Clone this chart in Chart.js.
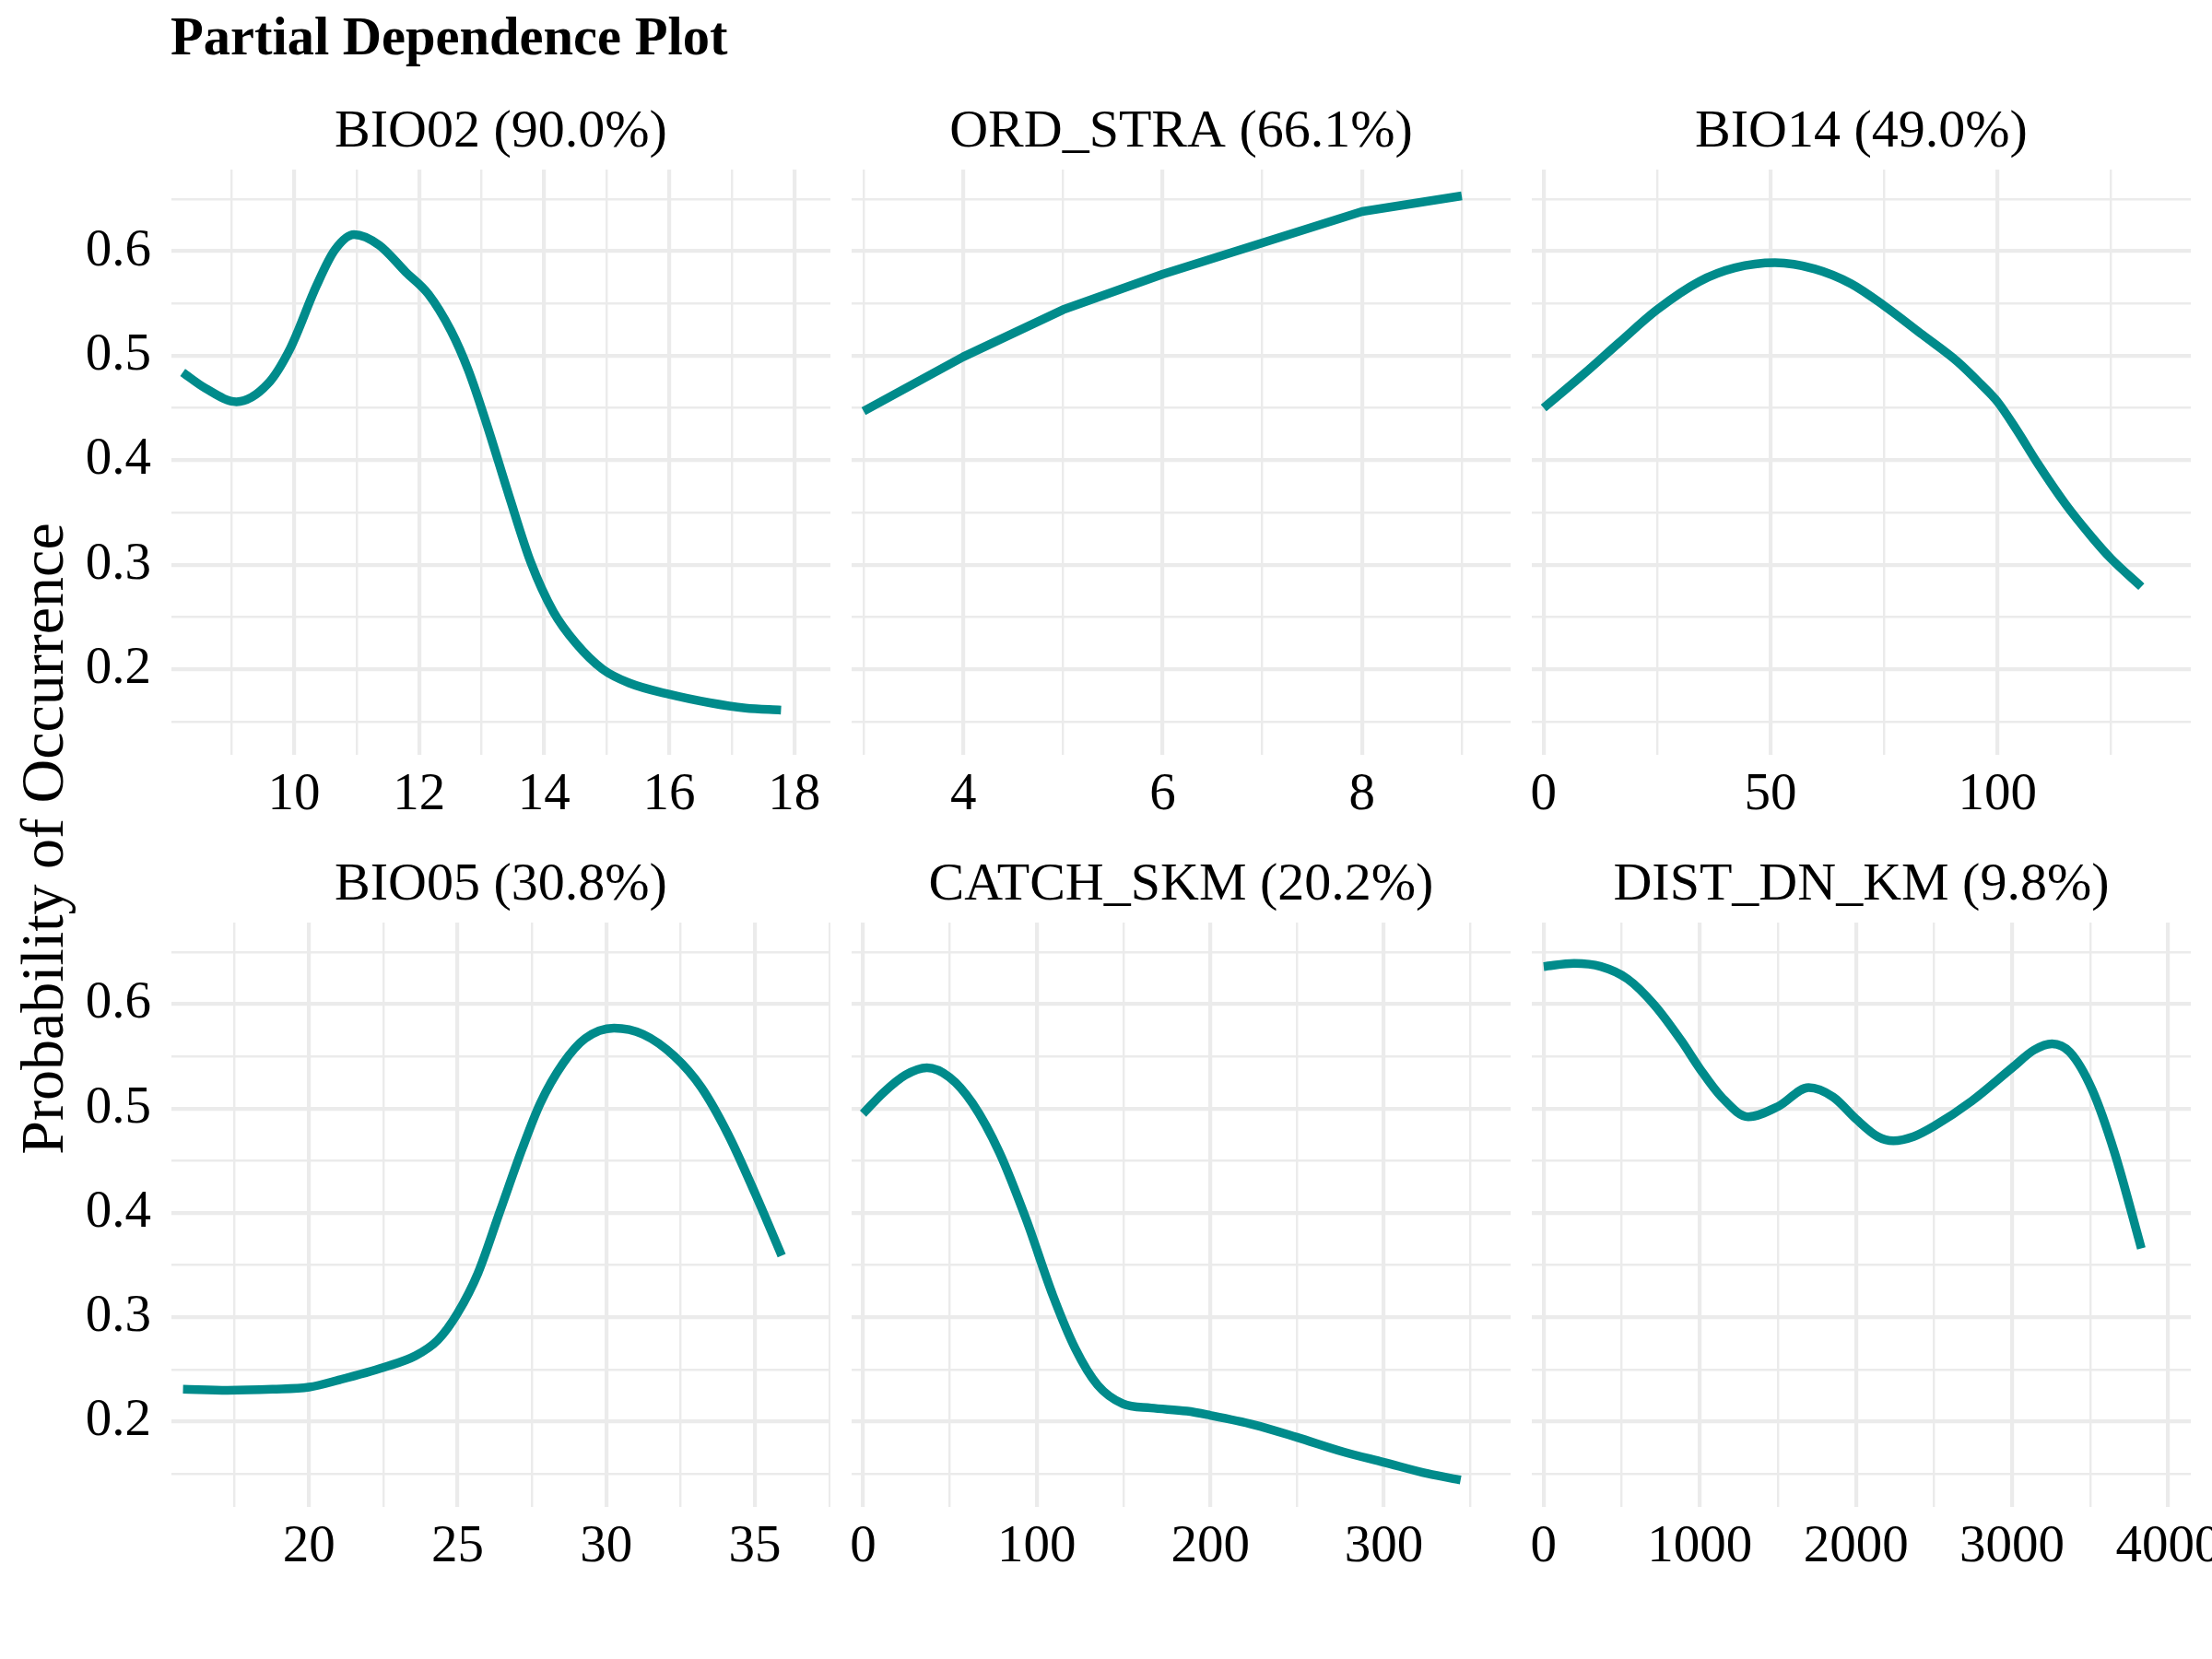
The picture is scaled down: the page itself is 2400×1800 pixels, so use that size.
<!DOCTYPE html>
<html lang="en">
<head>
<meta charset="UTF-8">
<title>Partial Dependence Plot</title>
<script src="https://cdn.jsdelivr.net/npm/chart.js"></script>
<style>
  body { margin: 0; background: #fff; }
  #page { position: relative; width: 2400px; height: 1800px; overflow: hidden; background: #fff;
          font-family: "Liberation Serif", "Times New Roman", serif; color: #000; }
  #mainTitle { position: absolute; left: 185px; top: 11px; font-size: 58.5px; font-weight: bold;
               line-height: 1; white-space: nowrap; }
  #yTitle { position: absolute; left: 46px; top: 910px; font-size: 66px; line-height: 1;
            white-space: nowrap; transform: translate(-50%, -50%) rotate(-90deg); }
</style>
</head>
<body>
<div id="page">
  <div id="mainTitle">Partial Dependence Plot</div>
  <div id="yTitle">Probability of Occurrence</div>
</div>

<script>
// panel titles (facet strips)
const panelTitles = ['BIO02 (90.0%)', 'ORD_STRA (66.1%)', 'BIO14 (49.0%)',
                     'BIO05 (30.8%)', 'CATCH_SKM (20.2%)', 'DIST_DN_KM (9.8%)'];

// curves
const bio02X = [8.22, 8.58, 9.08, 9.58, 9.94, 10.36, 10.65, 10.96, 11.36, 11.79, 12.15, 12.51,
                12.79, 13.08, 13.44, 13.79, 14.15, 14.51, 14.94, 15.36, 16.01, 16.65, 17.22, 17.79];
const bio02Y = [0.484, 0.469, 0.456, 0.473, 0.507, 0.567, 0.601, 0.616, 0.606, 0.580, 0.559, 0.524,
                0.486, 0.435, 0.366, 0.302, 0.255, 0.225, 0.200, 0.187, 0.176, 0.168, 0.163, 0.161];

const ordStraX = [3, 4, 5, 6, 7, 8, 9];
const ordStraY = [0.447, 0.499, 0.544, 0.578, 0.608, 0.638, 0.653];

const bio14X = [0, 8.7, 16.5, 25, 34.3, 42.1, 51, 59.8, 67.7, 75, 83.5, 91.3, 96.3, 100,
                104.1, 109, 115, 120.9, 125, 131.7];
const bio14Y = [0.450, 0.482, 0.512, 0.544, 0.571, 0.584, 0.589, 0.583, 0.569, 0.548, 0.520, 0.494,
                0.473, 0.456, 0.430, 0.396, 0.358, 0.326, 0.306, 0.279];

const bio05X = [15.76, 17.26, 18.77, 20, 21.02, 22.52, 23.58, 24.33, 25, 25.68, 26.43, 27.18,
                27.78, 28.54, 29.29, 30.26, 31.24, 32.29, 33.2, 34.1, 35.0, 35.9];
const bio05Y = [0.231, 0.230, 0.231, 0.233, 0.240, 0.252, 0.263, 0.278, 0.304, 0.342, 0.402, 0.462,
                0.505, 0.543, 0.567, 0.577, 0.571, 0.550, 0.520, 0.475, 0.419, 0.359];

const catchX = [0, 11.6, 24.4, 36.8, 49.7, 63, 78.5, 93.9, 109.3, 122.2, 135.1, 149.7, 165.9,
                186.5, 199.9, 225.1, 249.8, 276.6, 300, 325.4, 344.2];
const catchY = [0.495, 0.515, 0.532, 0.539, 0.530, 0.505, 0.458, 0.394, 0.321, 0.270, 0.235, 0.217,
                0.213, 0.210, 0.206, 0.197, 0.185, 0.171, 0.161, 0.150, 0.144];

const distX = [0, 195, 366, 538, 710, 881, 1001, 1139, 1310, 1502, 1697, 1854, 2000, 2140, 2240,
               2369, 2500, 2741, 3001, 3141, 3256, 3370, 3513, 3656, 3828];
const distY = [0.636, 0.639, 0.636, 0.624, 0.599, 0.565, 0.538, 0.511, 0.492, 0.502, 0.520, 0.511,
               0.490, 0.473, 0.469, 0.473, 0.483, 0.507, 0.539, 0.556, 0.562, 0.554, 0.518, 0.458, 0.366];

const panelX = [bio02X, ordStraX, bio14X, bio05X, catchX, distX];
const panelY = [bio02Y, ordStraY, bio14Y, bio05Y, catchY, distY];
const smooth = [true, false, true, true, true, true];

// tick labels and axis ranges
const xMajor = [[10, 12, 14, 16, 18], [4, 6, 8], [0, 50, 100], [20, 25, 30, 35],
                [0, 100, 200, 300], [0, 1000, 2000, 3000, 4000]];
const xMinor = [[9, 11, 13, 15, 17], [3, 5, 7, 9], [25, 75, 125], [17.5, 22.5, 27.5, 32.5, 37.5],
                [50, 150, 250, 350], [500, 1500, 2500, 3500]];
const xLimits = [[8.04, 18.58], [2.88, 9.49], [-2.6, 142.6], [15.37, 37.54], [-6.6, 373], [-76, 4145]];
const yMajor = [0.2, 0.3, 0.4, 0.5, 0.6];
const yMinor = [0.15, 0.25, 0.35, 0.45, 0.55, 0.65];
const yLimits = [0.1182, 0.6781];

// page layout (pixels)
const colLeft = [186, 924, 1662];
const colRight = [901, 1639, 2377];
const rowTop = [184, 1001];
const rowBottom = [819, 1635];
const STRIP_H = 100;
const AXIS_H = 90;

const LINE = '#008B8B';
const GRID = '#EBEBEB';
const FONT = '"Liberation Serif", "Times New Roman", serif';

Chart.defaults.font.family = FONT;
Chart.defaults.color = '#000';

const page = document.getElementById('page');

function makePanel(i) {
    const col = i % 3;
    const row = Math.floor(i / 3);
    const padL = col === 0 ? colLeft[0] : 0;
    const padR = col === 2 ? 2400 - colRight[2] : 0;
    const w = colRight[col] - colLeft[col] + padL + padR;
    const h = rowBottom[row] - rowTop[row] + STRIP_H + AXIS_H;

    const canvas = document.createElement('canvas');
    canvas.width = w;
    canvas.height = h;
    canvas.style.position = 'absolute';
    canvas.style.left = (colLeft[col] - padL) + 'px';
    canvas.style.top = (rowTop[row] - STRIP_H) + 'px';
    canvas.style.width = w + 'px';
    canvas.style.height = h + 'px';
    page.appendChild(canvas);

    const majX = xMajor[i];
    const allX = xMajor[i].concat(xMinor[i]).sort((a, b) => a - b);
    const allY = yMajor.concat(yMinor).sort((a, b) => a - b);

    new Chart(canvas, {
        type: 'line',
        data: {
            datasets: [{
                data: panelX[i].map((x, k) => ({ x: x, y: panelY[i][k] })),
                borderColor: LINE,
                borderWidth: 9.5,
                pointRadius: 0,
                fill: false,
                tension: smooth[i] ? 0.4 : 0,
                cubicInterpolationMode: smooth[i] ? 'monotone' : 'default',
                borderJoinStyle: 'round'
            }]
        },
        options: {
            responsive: false,
            animation: false,
            events: [],
            layout: { padding: { left: 0, right: padR, top: 0, bottom: 0 } },
            plugins: {
                legend: { display: false },
                tooltip: { enabled: false },
                title: {
                    display: true,
                    text: panelTitles[i],
                    fullSize: false,
                    color: '#000',
                    font: { size: 58, weight: 'normal', lineHeight: 1 },
                    padding: { top: 31, bottom: 11 }
                }
            },
            scales: {
                x: {
                    type: 'linear',
                    bounds: 'data',
                    min: xLimits[i][0],
                    max: xLimits[i][1],
                    border: { display: false },
                    grid: {
                        color: GRID,
                        drawTicks: false,
                        lineWidth: ctx => majX.includes(ctx.tick.value) ? 4.2 : 2.4
                    },
                    ticks: {
                        autoSkip: false,
                        maxRotation: 0,
                        minRotation: 0,
                        padding: 16,
                        color: '#000',
                        font: { size: 57, lineHeight: 1 },
                        callback: v => majX.includes(v) ? String(v) : ''
                    },
                    afterBuildTicks: s => { s.ticks = allX.map(v => ({ value: v })); },
                    afterFit: s => { s.height = AXIS_H; s.paddingLeft = 0; s.paddingRight = 0; }
                },
                y: {
                    type: 'linear',
                    bounds: 'data',
                    min: yLimits[0],
                    max: yLimits[1],
                    border: { display: false },
                    grid: {
                        color: GRID,
                        drawTicks: false,
                        lineWidth: ctx => yMajor.includes(ctx.tick.value) ? 4.2 : 2.4
                    },
                    ticks: {
                        display: col === 0,
                        autoSkip: false,
                        padding: 22,
                        color: '#000',
                        font: { size: 57, lineHeight: 1 },
                        callback: v => yMajor.includes(v) ? v.toFixed(1) : ''
                    },
                    afterBuildTicks: s => { s.ticks = allY.map(v => ({ value: v })); },
                    afterFit: s => { s.width = padL; s.paddingTop = 0; s.paddingBottom = 0; }
                }
            }
        }
    });
}

for (let i = 0; i < 6; i++) {
    makePanel(i);
}
</script>
</body>
</html>
